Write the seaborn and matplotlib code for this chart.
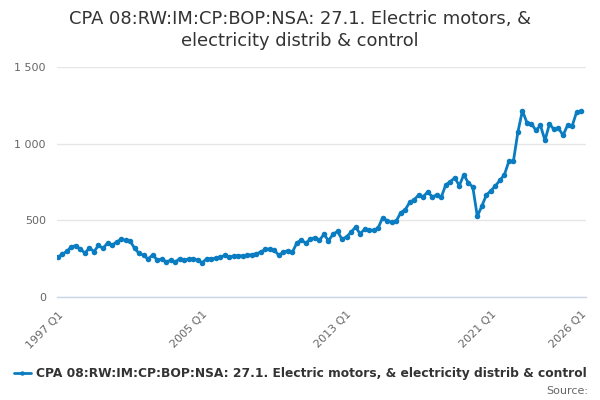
#!/usr/bin/env python3

# import libraries
import numpy as np
import matplotlib
matplotlib.use('Agg')
import matplotlib.pyplot as plt
import pandas as pd
import seaborn as sns

# quarterly values, 1997 Q1 .. 2026 Q1
values = [
    259, 280, 298, 328, 335, 311, 287, 320, 296, 337, 317, 352, 337, 359, 376, 370,
    367, 317, 285, 272, 248, 274, 243, 246, 230, 239, 228, 250, 239, 248, 250, 241,
    224, 250, 250, 252, 259, 272, 261, 267, 269, 269, 272, 276, 282, 293, 311, 313,
    304, 272, 293, 302, 293, 354, 372, 350, 380, 386, 370, 409, 367, 409, 428, 376,
    393, 422, 456, 413, 441, 435, 435, 450, 517, 497, 487, 493, 550, 569, 617, 635,
    665, 654, 685, 654, 665, 650, 732, 752, 778, 726, 797, 745, 717, 526, 593, 665,
    693, 724, 761, 797, 885, 885, 1076, 1215, 1137, 1130, 1087, 1119, 1022, 1128, 1093, 1102,
    1054, 1119, 1113, 1204, 1211,
]
quarters = [f"{1997 + i // 4} Q{i % 4 + 1}" for i in range(len(values))]

title = "CPA 08:RW:IM:CP:BOP:NSA: 27.1. Electric motors, &\nelectricity distrib & control"
series_name = "CPA 08:RW:IM:CP:BOP:NSA: 27.1. Electric motors, & electricity distrib & control"

df = pd.DataFrame({'idx': np.arange(len(values)), 'quarter': quarters, 'value': values})

sns.set_theme(style='white')
plt.rcParams['font.family'] = ['DejaVu Sans']

fig = plt.figure(figsize=(6, 4), dpi=100)
ax = fig.add_axes([57 / 600, 1 - 297 / 400, (586 - 57) / 600, (297 - 67) / 400])

line_color = '#0a7cc1'
sns.lineplot(data=df, x='idx', y='value', ax=ax, color=line_color, linewidth=2,
             marker='o', markersize=4, markeredgewidth=0, label=series_name, legend=False)

ax.set_xlim(-0.2, 117.1)
ax.set_ylim(0, 1500)
ax.set_yticks([0, 500, 1000, 1500])
ax.set_yticklabels([f"{v:,}".replace(',', ' ') for v in [0, 500, 1000, 1500]])
ax.yaxis.grid(True, color='#e6e6e6', linewidth=1)
ax.tick_params(axis='y', length=0, labelsize=8, colors='#666666', pad=8)

tick_pos = list(range(0, 112, 8)) + [116]
labelled = {0, 32, 64, 96, 116}
ax.set_xticks(tick_pos)
ax.set_xticklabels([quarters[p] if p in labelled else '' for p in tick_pos],
                   rotation=45, ha='right', rotation_mode='anchor')
ax.tick_params(axis='x', length=7, width=1, color='#ccd6eb', labelsize=8,
               labelcolor='#666666', pad=2, direction='out')
ax.set_xlabel('')
ax.set_ylabel('')

for s in ['top', 'right', 'left']:
    ax.spines[s].set_visible(False)
ax.spines['bottom'].set_color('#ccd6eb')
ax.spines['bottom'].set_linewidth(1)

fig.text(0.5, 1 - 30 / 400, title, ha='center', va='center', fontsize=12.9,
         color='#333333', linespacing=1.22)

handles, labels = ax.get_legend_handles_labels()
fig.legend(handles, labels, loc='center', bbox_to_anchor=(0.5, 1 - 374 / 400),
           frameon=False, prop={'size': 8.8, 'weight': 'bold'}, labelcolor='#333333',
           handlelength=1.4, handletextpad=0.4, markerscale=0.8)
fig.text(588 / 600, 1 - 391 / 400, "Source:", ha='right', va='center',
         fontsize=8, color='#666666')

fig.savefig('out.png', dpi=100)
